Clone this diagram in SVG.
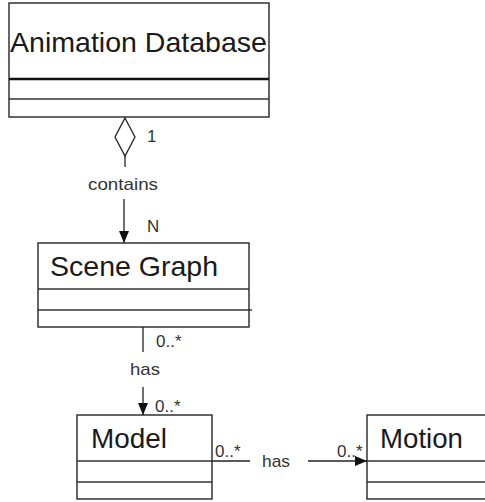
<svg xmlns="http://www.w3.org/2000/svg" width="485" height="502" viewBox="0 0 485 502">
<style>
.box{fill:#fff;stroke:#333;stroke-width:1.5}
.sep{stroke:#333;stroke-width:1.3}
.name{font-family:"Liberation Sans",Arial,sans-serif;font-size:28px;fill:#1a1a1a}
.lbl{font-family:"Liberation Sans",Arial,sans-serif;font-size:17px;fill:#333}
.ln{stroke:#222;stroke-width:1.3;fill:none}
</style>
<defs>
<marker id="arr" viewBox="0 0 12 10" refX="12" refY="5" markerWidth="12" markerHeight="10" markerUnits="userSpaceOnUse" orient="auto">
<path d="M0,0 L12,5 L0,10 Z" fill="#111"/>
</marker>
</defs>
<rect width="485" height="502" fill="#fff"/>
<g id="animation-database">
<rect class="box" x="9" y="3" width="260" height="114"/>
<line x1="9" y1="79" x2="269" y2="79" stroke="#111" stroke-width="2.5"/>
<line class="sep" x1="9" y1="99" x2="269" y2="99"/>
<text class="name" x="10" y="52" font-size="30" textLength="257" lengthAdjust="spacingAndGlyphs">Animation Database</text>
</g>
<g id="scene-graph">
<rect class="box" x="38" y="243" width="211" height="84"/>
<line class="sep" x1="38" y1="289" x2="249" y2="289"/>
<line class="sep" x1="38" y1="310" x2="252" y2="310"/>
<text class="name" x="50" y="276" textLength="168" lengthAdjust="spacingAndGlyphs">Scene Graph</text>
</g>
<g id="model">
<rect class="box" x="77" y="415" width="135" height="84"/>
<line class="sep" x1="77" y1="461" x2="212" y2="461"/>
<line class="sep" x1="77" y1="482" x2="212" y2="482"/>
<text class="name" x="91" y="448" textLength="76" lengthAdjust="spacingAndGlyphs">Model</text>
</g>
<g id="motion">
<rect class="box" x="367" y="415" width="125" height="84"/>
<line class="sep" x1="367" y1="461" x2="485" y2="461"/>
<line class="sep" x1="367" y1="482" x2="485" y2="482"/>
<text class="name" x="380" y="448" textLength="83" lengthAdjust="spacingAndGlyphs">Motion</text>
</g>
<g id="connectors">
<path class="ln" d="M125,118 L135,137 L125,156 L115,137 Z" fill="#fff"/>
<line class="ln" x1="125" y1="156" x2="125" y2="167"/>
<line class="ln" x1="124" y1="199" x2="124" y2="243" marker-end="url(#arr)"/>
<text class="lbl" x="88" y="190" textLength="70" lengthAdjust="spacingAndGlyphs">contains</text>
<text class="lbl" x="147" y="142" font-size="18">1</text>
<text class="lbl" x="147" y="232" font-size="18">N</text>

<line class="ln" x1="143" y1="327" x2="143" y2="352"/>
<line class="ln" x1="143" y1="387" x2="143" y2="415" marker-end="url(#arr)"/>
<text class="lbl" x="156" y="347">0..*</text>
<text class="lbl" x="130" y="375" textLength="30" lengthAdjust="spacingAndGlyphs">has</text>
<text class="lbl" x="155" y="412">0..*</text>

<line class="ln" x1="212" y1="461" x2="250" y2="461"/>
<line class="ln" x1="308" y1="461" x2="367" y2="461" marker-end="url(#arr)"/>
<text class="lbl" x="262" y="467" textLength="28" lengthAdjust="spacingAndGlyphs">has</text>
<text class="lbl" x="215" y="457">0..*</text>
<text class="lbl" x="337" y="457">0..*</text>
</g>
</svg>
